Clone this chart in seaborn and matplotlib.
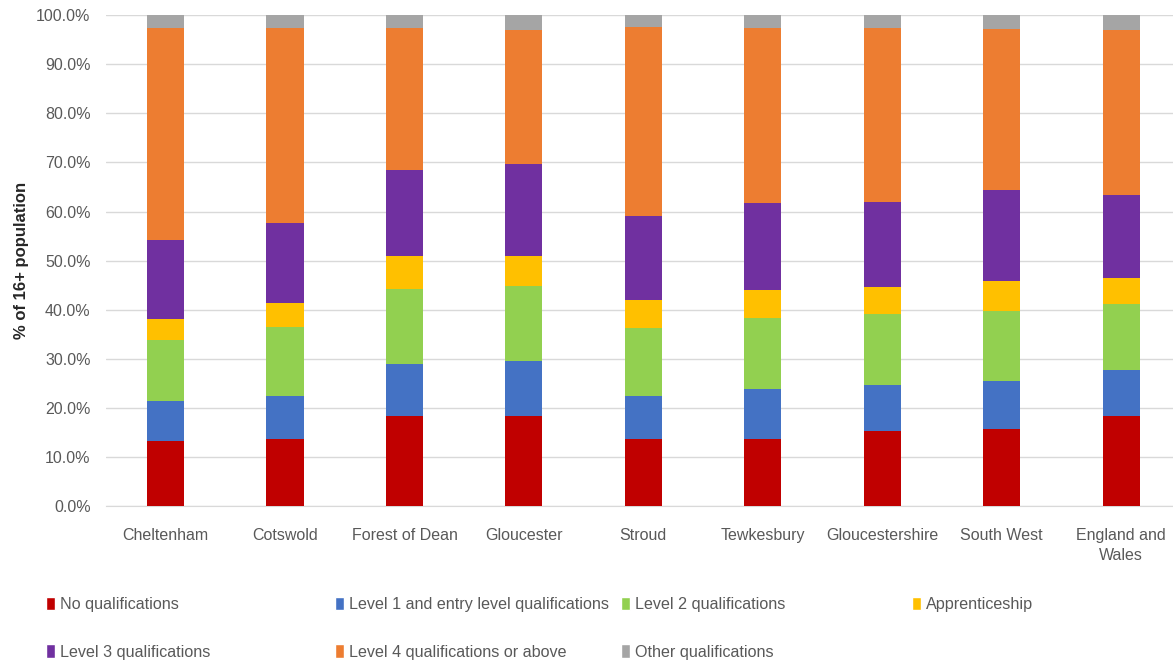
import pandas as pd
import numpy as np
import seaborn as sns
import matplotlib.pyplot as plt
from matplotlib.patches import Patch
from matplotlib.ticker import FuncFormatter

areas = ["Cheltenham", "Cotswold", "Forest of Dean", "Gloucester", "Stroud",
         "Tewkesbury", "Gloucestershire", "South West", "England and\nWales"]

# % of 16+ population
no_qual = [13.3, 13.7, 18.3, 18.3, 13.6, 13.7, 15.2, 15.7, 18.3]
level1 = [8.1, 8.8, 10.6, 11.3, 8.9, 10.1, 9.4, 9.7, 9.5]
level2 = [12.4, 14.0, 15.4, 15.2, 13.7, 14.6, 14.6, 14.4, 13.3]
apprentice = [4.3, 4.8, 6.7, 6.1, 5.8, 5.7, 5.4, 6.0, 5.4]
level3 = [16.2, 16.3, 17.5, 18.8, 17.1, 17.6, 17.4, 18.5, 16.8]
level4 = [43.2, 39.9, 28.9, 27.3, 38.6, 35.8, 35.5, 32.9, 33.7]
other = [2.5, 2.5, 2.6, 3.0, 2.3, 2.5, 2.5, 2.8, 3.0]

series = ["No qualifications", "Level 1 and entry level qualifications",
          "Level 2 qualifications", "Apprenticeship", "Level 3 qualifications",
          "Level 4 qualifications or above", "Other qualifications"]
colors = ["#C00000", "#4472C4", "#92D050", "#FFC000", "#7030A0", "#ED7D31", "#A5A5A5"]

df = pd.DataFrame(dict(zip(series, [no_qual, level1, level2, apprentice,
                                    level3, level4, other])), index=areas)
cum = df.cumsum(axis=1)

sns.set_style("white")
plt.rcParams['font.family'] = ['Liberation Sans', 'DejaVu Sans']

fig = plt.figure(figsize=(11.73, 6.64), dpi=100)
ax = fig.add_axes([0.0902, 0.238, 0.9166, 0.739])

# draw the cumulative totals from the top layer down so lower ones cover them
for name, c in zip(reversed(series), reversed(colors)):
    sns.barplot(x=areas, y=cum[name].values, color=c, saturation=1,
                width=0.31, ax=ax, zorder=3, edgecolor="none", linewidth=0)

ax.set_ylim(0, 100)
ax.set_yticks(np.arange(0, 101, 10))
ax.yaxis.set_major_formatter(FuncFormatter(lambda v, p: f"{v:.1f}%"))
ax.grid(axis="y", color="#D9D9D9", linewidth=1, zorder=0)
ax.set_axisbelow(True)
for s in ["top", "right", "left"]:
    ax.spines[s].set_visible(False)
ax.spines["bottom"].set_color("#D9D9D9")
ax.tick_params(axis="y", length=0, labelsize=11.5, colors="#595959", pad=11)
ax.tick_params(axis="x", length=0, labelsize=11.5, colors="#595959", pad=16)
for t in ax.get_xticklabels():
    t.set_linespacing(1.4)
ax.set_xlabel("")
ax.set_ylabel("% of 16+ population", fontsize=12, fontweight="bold",
              color="#262626", labelpad=5)

# legend laid out in two rows like the original
handles = [Patch(facecolor=c, label=n) for n, c in zip(series, colors)]
spots = [(0.0326, 0.090), (0.279, 0.090), (0.5226, 0.090), (0.771, 0.090),
         (0.0326, 0.018), (0.279, 0.018), (0.5226, 0.018)]
for h, (x, y) in zip(handles, spots):
    fig.legend(handles=[h], loc="center left", bbox_to_anchor=(x, y),
               frameon=False, fontsize=11.6, handlelength=0.55, handleheight=0.9,
               handletextpad=0.3, borderpad=0, labelcolor="#595959")

fig.savefig("out.png", dpi=100)
